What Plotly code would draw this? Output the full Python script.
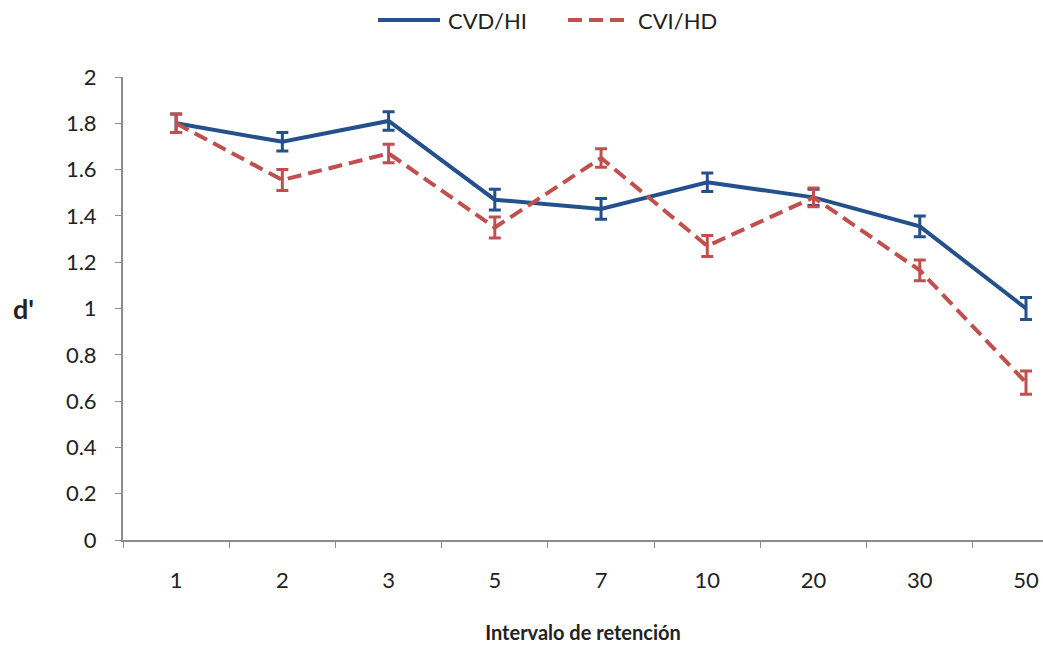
import plotly.graph_objects as go

# retention intervals (categories)
intervals = ["1", "2", "3", "5", "7", "10", "20", "30", "50"]

# d' values
cvd_hi = [1.80, 1.72, 1.81, 1.47, 1.43, 1.545, 1.48, 1.355, 1.00]
cvi_hd = [1.80, 1.555, 1.67, 1.35, 1.65, 1.27, 1.48, 1.165, 0.68]

# error bar half-widths
cvd_hi_err = [0.04, 0.04, 0.04, 0.045, 0.045, 0.04, 0.035, 0.045, 0.047]
cvi_hd_err = [0.04, 0.045, 0.04, 0.045, 0.04, 0.045, 0.04, 0.045, 0.05]

series_names = ["CVD/HI", "CVI/HD"]

blue = "#24508C"
red = "#C0504D"
red_dash = "14px,7px"

W, H = 1043, 645
ML, MT = 123, 77

fig = go.Figure()

fig.add_trace(go.Scatter(
    x=intervals, y=cvd_hi, name=series_names[0], mode="lines",
    line=dict(color=blue, width=4),
    error_y=dict(type="data", array=cvd_hi_err, color=blue, thickness=3, width=6),
))

fig.add_trace(go.Scatter(
    x=intervals, y=cvi_hd, name=series_names[1], mode="lines",
    line=dict(color=red, width=4, dash=red_dash),
    error_y=dict(type="data", array=cvi_hd_err, color=red, thickness=3, width=6),
))

fig.update_layout(
    width=W, height=H,
    paper_bgcolor="white", plot_bgcolor="white",
    font=dict(family="Lato, Liberation Sans, sans-serif", size=22, color="#222"),
    margin=dict(l=ML, r=0, t=MT, b=105),
    showlegend=False,
    xaxis=dict(
        # the original chart is cropped at the right, so the range stops short of 8.5
        type="category", range=[-0.5, 8.16], automargin=False,
        showline=True, linecolor="#8c8c8c", linewidth=2,
        ticks="outside", tickson="boundaries", ticklen=6, tickcolor="#8c8c8c",
        tickwidth=1, showgrid=False, zeroline=False,
        tickfont=dict(size=22), ticklabelstandoff=20,
        title=dict(text="<b>Intervalo de retención</b>", font=dict(size=20), standoff=34),
    ),
    yaxis=dict(
        range=[0, 2], dtick=0.2, tickformat="~g", automargin=False,
        showline=True, linecolor="#8c8c8c", linewidth=2,
        ticks="outside", ticklen=6, tickcolor="#8c8c8c", tickwidth=1,
        showgrid=False, zeroline=False, ticklabelstandoff=14,
        tickfont=dict(size=22),
    ),
)

# legend drawn by hand to get the long Excel-style key lines
plot_w = W - ML
legend_y = 1 + (MT - 20) / (H - MT - 105)
keys = [
    (series_names[0], blue, "solid", 255 / plot_w, 317 / plot_w),
    (series_names[1], red, red_dash, 445 / plot_w, 507 / plot_w),
]
for name, color, dash, x0, x1 in keys:
    fig.add_shape(type="line", xref="paper", yref="paper",
                  x0=x0, x1=x1, y0=legend_y, y1=legend_y,
                  line=dict(color=color, width=4, dash=dash))
    fig.add_annotation(text=name, xref="paper", yref="paper", x=x1 + 6 / plot_w, y=legend_y,
                       xanchor="left", yanchor="middle", showarrow=False,
                       font=dict(size=22, color="#222"))

fig.add_annotation(
    text="<b>d'</b>", xref="paper", yref="paper", x=-112 / plot_w, y=0.50,
    showarrow=False, font=dict(size=27, color="#222"), xanchor="left",
)

# drop the default 8px page margin so the figure fills the window exactly
fig.write_html("out.html", config={"displayModeBar": False},
               post_script="document.body.style.margin='0';")
